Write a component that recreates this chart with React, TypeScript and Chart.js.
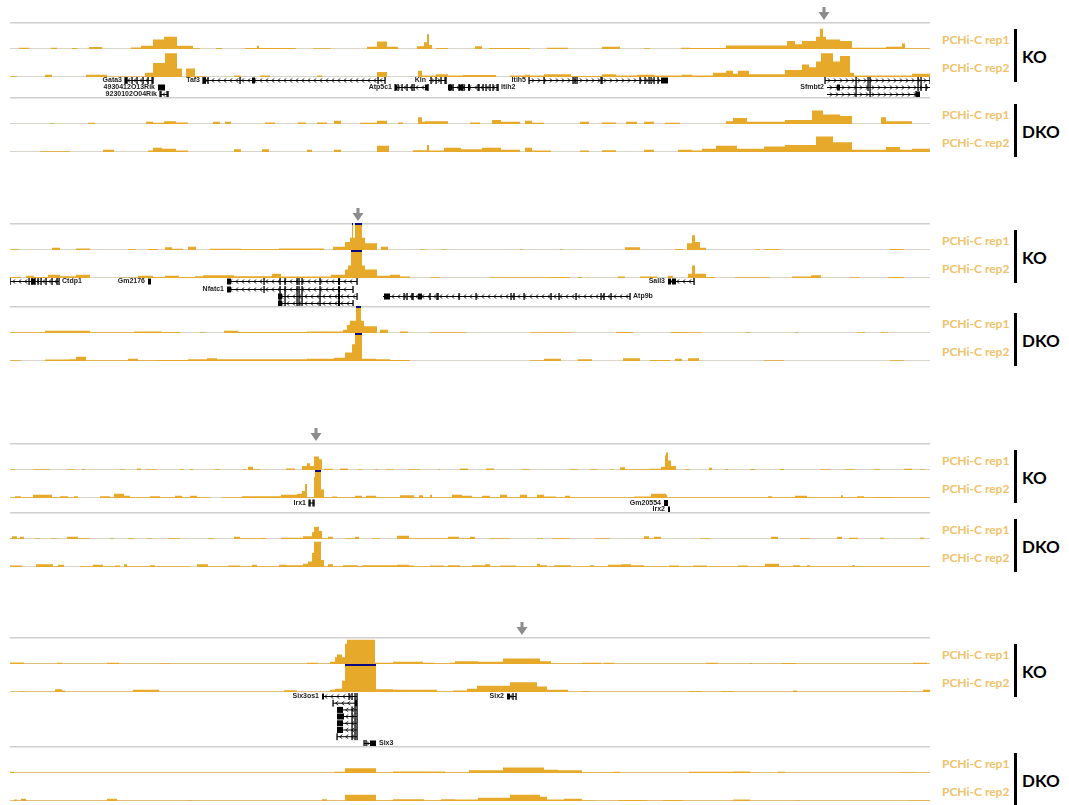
import React, { useEffect, useRef } from 'react';
import { Chart, registerables } from 'chart.js';
Chart.register(...registerables);

type Pt = [number, number];
type Gene = {
  name: string; start: number; end: number; row: number; strand: number;
  ticks: number[]; blocks: [number, number][]; label: 'left' | 'right' | 'none';
};

// locus window positions 0..920, values in % of track height (>100 = clipped)
const SPAN = 920;
const CAP = 100;

// ---------- Panel 1 (Gata3 ... Sfmbt2) ----------
const p1KoRep1: Pt[] = [[0,0],[9,5],[19,0],[41,5],[47,0],[62,4],[67,0],[79,7],[92,0],[121,6],[131,12],[143,35],[154,45],[167,12],[183,3],[190,0],[206,4],[212,0],[235,4],[247,12],[249,4],[286,0],[303,3],[321,0],[357,8],[367,28],[377,8],[388,0],[407,10],[414,25],[417,55],[419,15],[422,0],[426,4],[438,0],[465,10],[472,0],[479,4],[520,0],[537,5],[558,0],[592,8],[610,0],[634,3],[640,0],[671,5],[680,4],[716,13],[777,30],[785,18],[792,30],[806,45],[810,75],[813,45],[816,35],[830,30],[842,5],[876,8],[892,20],[895,3],[920,3]];
const p1KoRep2: Pt[] = [[0,3],[7,0],[35,8],[42,0],[76,8],[97,2],[135,15],[143,50],[155,85],[167,30],[172,0],[176,30],[185,3],[195,0],[224,5],[231,0],[250,5],[260,0],[307,5],[312,0],[367,18],[377,0],[408,22],[412,5],[426,10],[438,5],[453,7],[486,0],[500,5],[515,8],[520,5],[534,10],[561,4],[592,10],[606,5],[627,8],[644,5],[672,8],[682,5],[703,15],[716,22],[723,12],[728,22],[739,10],[775,25],[792,45],[799,35],[806,55],[811,85],[823,55],[830,75],[840,15],[844,5],[902,12],[920,12]];
const p1DkoRep1: Pt[] = [[0,0],[40,3],[44,0],[78,5],[85,0],[136,8],[143,5],[154,10],[166,6],[178,0],[203,8],[210,0],[215,8],[221,0],[255,6],[265,0],[288,6],[296,0],[307,6],[317,0],[324,12],[331,0],[350,5],[367,12],[377,0],[388,6],[393,0],[408,25],[412,8],[415,10],[438,0],[460,6],[470,0],[482,15],[491,8],[510,0],[515,12],[522,5],[534,0],[570,8],[579,0],[592,6],[606,0],[616,8],[627,0],[634,8],[644,0],[655,5],[670,0],[716,10],[723,22],[737,8],[775,15],[802,50],[813,35],[830,30],[842,0],[871,25],[876,10],[902,0],[920,0]];
const p1DkoRep2: Pt[] = [[0,0],[30,3],[60,0],[93,8],[104,0],[138,5],[143,15],[152,12],[166,5],[178,0],[224,10],[231,0],[252,10],[259,0],[297,8],[302,0],[324,8],[331,0],[367,22],[379,0],[403,6],[417,25],[419,5],[434,15],[451,10],[472,15],[491,8],[510,0],[515,15],[522,5],[527,5],[541,0],[570,5],[579,0],[592,6],[606,0],[634,8],[644,0],[668,8],[682,5],[692,12],[706,22],[727,12],[754,20],[775,25],[806,55],[823,35],[842,8],[876,18],[890,8],[902,12],[920,12]];
const p1Genes: Gene[] = [
  { name: 'Gata3', start: 115, end: 143, row: 0, strand: -1, ticks: [115,117,122,127,133,138,142,143], blocks: [[115,117]], label: 'left' },
  { name: '4930412O13Rik', start: 148, end: 155, row: 1, strand: 0, ticks: [], blocks: [[148,155]], label: 'left' },
  { name: '9230102O04Rik', start: 150, end: 158, row: 2, strand: -1, ticks: [150,151,157,158], blocks: [], label: 'left' },
  { name: 'Taf3', start: 193, end: 375, row: 0, strand: -1, ticks: [193,195,198,230,368,375], blocks: [[193,196],[242,245]], label: 'left' },
  { name: 'Atp5c1', start: 385, end: 418, row: 1, strand: -1, ticks: [385,388,392,397,402,404,418], blocks: [[385,387],[415,418]], label: 'left' },
  { name: 'Kln', start: 419, end: 436, row: 0, strand: 1, ticks: [421,426,431,435,436], blocks: [], label: 'left' },
  { name: 'Itih2', start: 438, end: 488, row: 1, strand: -1, ticks: [440,443,449,452,454,459,468,469,473,476,480,483,487,488], blocks: [[438,442],[449,453],[458,460]], label: 'right' },
  { name: 'Itih5', start: 519, end: 658, row: 0, strand: 1, ticks: [519,534,563,565,567,591,592,630,635,639,641,644,648], blocks: [[651,658]], label: 'left' },
  { name: 'Sfmbt2', start: 815, end: 920, row: 0, strand: 1, ticks: [815,846,858,860,908,911,920], blocks: [], label: 'none' },
  { name: 'Sfmbt2', start: 817, end: 920, row: 1, strand: 1, ticks: [846,858,860,908,911,916], blocks: [[827,830]], label: 'left' },
  { name: 'Sfmbt2', start: 817, end: 910, row: 2, strand: 1, ticks: [846,860,906], blocks: [[906,910]], label: 'none' },
];

// ---------- Panel 2 (Ctdp1 ... Sall3) ----------
const p2KoRep1: Pt[] = [[0,3],[9,0],[42,8],[50,0],[66,6],[80,0],[118,4],[126,0],[138,4],[148,0],[155,10],[162,5],[173,0],[178,12],[186,0],[200,5],[231,4],[269,6],[314,0],[323,12],[335,30],[340,45],[342,110],[343,45],[345,110],[352,45],[355,25],[367,0],[371,12],[378,0],[410,3],[415,0],[431,3],[436,0],[510,3],[513,0],[550,3],[553,0],[615,10],[630,0],[665,4],[673,0],[677,25],[682,55],[685,30],[690,8],[696,0],[745,3],[750,0],[754,4],[770,0],[880,4],[894,0],[920,0]];
const p2KoRep2: Pt[] = [[0,4],[11,0],[16,8],[24,4],[38,12],[50,6],[66,12],[80,0],[110,2],[128,8],[143,4],[155,8],[169,4],[185,6],[193,10],[224,6],[262,15],[271,5],[321,12],[335,30],[338,45],[341,110],[352,45],[355,30],[367,8],[380,12],[390,5],[400,0],[420,3],[430,0],[480,3],[540,4],[560,0],[568,4],[572,0],[608,5],[615,0],[630,5],[647,0],[658,8],[663,0],[678,15],[682,45],[685,15],[696,4],[705,0],[725,3],[760,0],[782,5],[801,10],[811,0],[840,3],[850,0],[878,4],[894,0],[920,0]];
const p2DkoRep1: Pt[] = [[0,3],[35,8],[80,3],[124,6],[152,4],[170,0],[190,3],[195,0],[214,8],[228,4],[280,4],[297,6],[333,12],[337,30],[340,45],[346,110],[351,45],[354,25],[367,0],[370,12],[378,0],[390,6],[398,0],[420,3],[440,3],[456,0],[520,3],[561,0],[606,4],[623,0],[661,4],[675,3],[692,0],[735,3],[740,0],[785,3],[788,0],[847,3],[855,0],[871,3],[878,0],[920,0]];
const p2DkoRep2: Pt[] = [[0,3],[11,0],[35,5],[59,6],[66,15],[76,3],[118,8],[128,3],[145,4],[178,6],[197,10],[207,6],[297,8],[324,12],[335,30],[342,60],[345,110],[352,8],[366,6],[380,4],[400,0],[520,3],[534,8],[551,0],[568,6],[582,0],[613,10],[630,0],[640,4],[660,0],[665,8],[672,0],[678,10],[689,0],[754,3],[774,0],[880,3],[894,0],[920,0]];
const p2Genes: Gene[] = [
  { name: 'Ctdp1', start: 0, end: 49, row: 0, strand: -1, ticks: [0,19,22,25,28,31,36,42,47,49], blocks: [[21,25]], label: 'right' },
  { name: 'Gm2176', start: 138, end: 141, row: 0, strand: 0, ticks: [], blocks: [[138,141]], label: 'left' },
  { name: 'Nfatc1', start: 217, end: 347, row: 0, strand: -1, ticks: [254,270,275,287,289,292,310,329,347], blocks: [[217,221],[328,330]], label: 'none' },
  { name: 'Nfatc1', start: 217, end: 343, row: 1, strand: -1, ticks: [254,270,275,287,289,292,310,329,343], blocks: [[217,221],[328,330]], label: 'left' },
  { name: 'Nfatc1', start: 268, end: 347, row: 2, strand: -1, ticks: [270,275,287,289,292,310,329,347], blocks: [[268,272],[328,330]], label: 'none' },
  { name: 'Nfatc1', start: 268, end: 343, row: 3, strand: -1, ticks: [270,275,287,289,292,310,329,343], blocks: [[268,272],[328,330]], label: 'none' },
  { name: 'Atp9b', start: 373, end: 620, row: 2, strand: -1, ticks: [394,397,402,403,420,427,428,449,466,501,504,514,541,549,566,591,594,601,620], blocks: [[374,380],[408,412]], label: 'right' },
  { name: 'Sall3', start: 658, end: 684, row: 0, strand: -1, ticks: [684], blocks: [[658,661],[662,666]], label: 'left' },
];

// ---------- Panel 3 (Irx1 ... Irx2) ----------
const p3KoRep1: Pt[] = [[0,3],[5,0],[23,3],[40,0],[57,3],[65,0],[72,4],[75,0],[110,3],[115,0],[127,6],[131,0],[136,3],[147,0],[170,3],[174,0],[180,4],[183,0],[205,3],[210,0],[233,4],[236,0],[238,12],[243,3],[250,0],[276,6],[285,0],[292,15],[297,25],[300,15],[304,50],[309,40],[312,0],[314,5],[323,0],[330,6],[338,0],[348,3],[352,0],[365,3],[368,0],[376,3],[384,0],[398,3],[410,0],[428,3],[430,0],[450,6],[458,0],[476,6],[484,0],[512,3],[520,0],[560,3],[568,0],[580,3],[587,0],[600,3],[604,0],[610,10],[615,3],[639,5],[651,12],[655,55],[656,65],[658,35],[661,15],[666,0],[675,3],[680,0],[699,8],[702,0],[715,4],[718,0],[740,4],[745,0],[770,4],[774,0],[810,3],[820,0],[835,3],[845,0],[864,3],[870,0],[894,5],[902,0],[910,3],[915,0],[920,0]];
const p3KoRep2: Pt[] = [[0,3],[5,6],[11,3],[23,12],[42,3],[50,6],[58,3],[64,6],[68,0],[90,6],[100,3],[104,15],[114,8],[120,3],[140,6],[150,3],[165,8],[172,3],[180,8],[187,3],[200,0],[212,3],[232,6],[271,12],[287,15],[292,25],[295,50],[297,3],[304,75],[305,110],[311,30],[314,3],[322,5],[327,3],[345,8],[352,3],[356,8],[366,3],[390,10],[404,3],[409,10],[413,3],[420,12],[422,3],[442,12],[452,8],[462,3],[472,8],[480,3],[490,12],[497,3],[510,12],[517,3],[527,12],[534,5],[546,3],[555,8],[560,3],[610,3],[624,5],[641,15],[656,12],[657,3],[700,3],[735,3],[758,6],[762,3],[785,8],[797,3],[831,10],[833,3],[847,6],[854,3],[865,4],[882,3],[920,3]];
const p3DkoRep1: Pt[] = [[0,3],[2,10],[7,3],[10,8],[14,0],[25,3],[30,0],[41,3],[47,0],[57,8],[68,3],[80,0],[100,3],[104,0],[118,3],[124,0],[137,3],[142,0],[158,3],[170,0],[198,3],[204,0],[224,8],[230,3],[250,4],[256,0],[271,5],[283,5],[293,10],[302,25],[304,45],[309,30],[312,3],[318,8],[323,0],[335,3],[345,8],[349,0],[362,3],[370,0],[387,12],[399,3],[420,3],[438,8],[449,3],[458,3],[460,8],[465,0],[480,3],[500,0],[527,3],[533,0],[542,3],[560,0],[585,3],[600,0],[634,10],[639,3],[644,8],[651,0],[690,3],[700,0],[761,8],[768,0],[790,3],[800,0],[827,8],[832,0],[839,5],[848,0],[870,5],[874,0],[910,5],[914,0],[920,0]];
const p3DkoRep2: Pt[] = [[0,5],[12,0],[26,10],[43,3],[48,8],[54,0],[70,3],[83,8],[93,3],[105,5],[110,0],[114,10],[117,3],[140,6],[145,3],[165,3],[180,0],[187,10],[198,3],[218,5],[230,3],[242,8],[247,3],[269,8],[276,6],[293,12],[298,20],[302,50],[304,90],[311,25],[314,3],[318,10],[323,3],[333,6],[348,3],[352,6],[365,6],[377,6],[387,8],[399,5],[404,3],[420,5],[434,3],[438,6],[450,3],[462,6],[475,10],[480,3],[490,5],[506,3],[527,12],[530,6],[537,3],[544,6],[561,3],[580,6],[584,3],[598,8],[611,10],[621,6],[634,3],[659,5],[669,3],[683,5],[697,3],[728,5],[738,3],[755,12],[769,3],[783,6],[790,3],[797,6],[800,3],[842,6],[845,3],[920,3]];
const p3Genes: Gene[] = [
  { name: 'Irx1', start: 299, end: 304, row: 0, strand: 0, ticks: [299,300,303,304], blocks: [], label: 'left' },
  { name: 'Gm20554', start: 654, end: 658, row: 0, strand: 0, ticks: [], blocks: [[654,658]], label: 'left' },
  { name: 'Irx2', start: 658, end: 660, row: 1, strand: 0, ticks: [], blocks: [[658,660]], label: 'left' },
];

// ---------- Panel 4 (Six3os1 / Six3 ... Six2) ----------
const p4KoRep1: Pt[] = [[0,6],[14,2],[47,5],[52,2],[97,5],[109,2],[150,3],[160,2],[297,5],[308,2],[320,8],[325,25],[327,35],[332,25],[335,75],[337,90],[365,5],[383,8],[413,5],[425,3],[440,5],[445,10],[468,8],[493,20],[530,10],[541,3],[572,5],[591,2],[594,5],[604,2],[696,5],[708,2],[740,4],[742,2],[772,4],[786,2],[903,5],[917,2],[920,2]];
const p4KoRep2: Pt[] = [[0,2],[10,3],[17,2],[45,10],[52,5],[55,2],[123,8],[149,2],[274,6],[287,2],[320,8],[325,12],[332,40],[335,110],[366,10],[383,8],[427,3],[443,5],[457,12],[467,22],[500,35],[527,20],[537,8],[558,2],[572,4],[580,2],[679,4],[691,2],[711,4],[723,2],[783,5],[787,2],[890,3],[899,2],[913,8],[920,8]];
const p4DkoRep1: Pt[] = [[0,5],[4,2],[235,2],[324,5],[335,18],[366,3],[383,6],[435,3],[459,10],[493,20],[534,12],[548,10],[572,3],[603,5],[610,2],[679,5],[723,6],[740,3],[749,2],[768,5],[775,2],[890,3],[906,2],[920,2]];
const p4DkoRep2: Pt[] = [[0,2],[4,5],[7,2],[11,8],[16,2],[97,8],[107,2],[178,3],[183,2],[312,6],[317,2],[335,22],[366,3],[383,6],[414,3],[431,6],[445,5],[468,12],[500,22],[530,15],[537,5],[554,8],[572,3],[585,2],[608,4],[637,2],[653,4],[673,2],[723,5],[740,2],[785,3],[790,2],[899,3],[920,3]];
const p4Genes: Gene[] = [
  { name: 'Six3os1', start: 312, end: 347, row: 0, strand: -1, ticks: [339,342,345,347], blocks: [[312,314]], label: 'left' },
  { name: 'Six3os1', start: 323, end: 347, row: 1, strand: -1, ticks: [323,345,347], blocks: [[345,347]], label: 'none' },
  { name: 'Six3os1', start: 327, end: 347, row: 2, strand: -1, ticks: [342,345,347], blocks: [[327,333]], label: 'none' },
  { name: 'Six3os1', start: 327, end: 347, row: 3, strand: -1, ticks: [342,345,347], blocks: [[327,334]], label: 'none' },
  { name: 'Six3os1', start: 327, end: 347, row: 4, strand: -1, ticks: [342,345,347], blocks: [[327,333]], label: 'none' },
  { name: 'Six3os1', start: 327, end: 347, row: 5, strand: -1, ticks: [342,345,347], blocks: [[327,333]], label: 'none' },
  { name: 'Six3os1', start: 327, end: 347, row: 6, strand: -1, ticks: [327,342,345,347], blocks: [], label: 'none' },
  { name: 'Six3', start: 354, end: 366, row: 7, strand: 1, ticks: [354,356], blocks: [[360,366]], label: 'right' },
  { name: 'Six2', start: 497, end: 506, row: 0, strand: -1, ticks: [503,506], blocks: [[497,500]], label: 'left' },
];

const ARROWS = [814, 348, 306, 512];
const TRACK_LABELS = ['PCHi-C rep1', 'PCHi-C rep2'];
const GROUPS = ['KO', 'DKO'];

const FILL = '#E6A92A';
const LABEL_COLOR = '#F0C26A';
const CAP_COLOR = '#0A0A80';
const SEP_COLOR = '#cfcfcf';
const BASE_COLOR = '#d9d4c8';
const ARROW_COLOR = '#8c8c8c';

const PANELS = [
  { top: 22, geneH: 20, rowY: [3, 10, 17], tracks: [p1KoRep1, p1KoRep2, p1DkoRep1, p1DkoRep2], genes: p1Genes },
  { top: 223, geneH: 28, rowY: [3, 11, 18, 25], tracks: [p2KoRep1, p2KoRep2, p2DkoRep1, p2DkoRep2], genes: p2Genes },
  { top: 443, geneH: 14, rowY: [4.5, 11], tracks: [p3KoRep1, p3KoRep2, p3DkoRep1, p3DkoRep2], genes: p3Genes },
  { top: 637, geneH: 54, rowY: [4, 10.7, 17.4, 24, 30.8, 37.5, 44.2, 51], tracks: [p4KoRep1, p4KoRep2, p4DkoRep1, p4DkoRep2], genes: p4Genes },
];

const baseOptions: any = {
  animation: false,
  responsive: false,
  maintainAspectRatio: false,
  events: [],
  scales: {
    x: { type: 'linear', min: 0, max: SPAN, display: false },
    y: { type: 'linear', min: 0, max: CAP, display: false },
  },
  plugins: { legend: { display: false }, tooltip: { enabled: false } },
};

function Track({ pts, top, height, arrow, topLine }: { pts: Pt[]; top: number; height: number; arrow?: number; topLine?: boolean }) {
  const ref = useRef<HTMLCanvasElement>(null);
  const pad = arrow !== undefined ? 22 : 0;
  useEffect(() => {
    const deco = {
      id: 'deco',
      beforeDatasetsDraw(chart: any) {
        const { ctx, chartArea: a } = chart;
        ctx.save();
        ctx.fillStyle = BASE_COLOR;
        ctx.fillRect(a.left, a.bottom - 1, a.right - a.left, 1);
        if (topLine) {
          ctx.fillStyle = SEP_COLOR;
          ctx.fillRect(a.left, a.top, a.right - a.left, 1.5);
        }
        ctx.restore();
      },
      afterDatasetsDraw(chart: any) {
        const { ctx, chartArea: a } = chart;
        const xs = chart.scales.x;
        ctx.save();
        ctx.fillStyle = CAP_COLOR;
        pts.forEach(([p, v], i) => {
          if (v > CAP && i + 1 < pts.length) {
            const x0 = xs.getPixelForValue(p);
            const x1 = xs.getPixelForValue(pts[i + 1][0]);
            ctx.fillRect(x0, a.top, x1 - x0, 2);
          }
        });
        if (arrow !== undefined) {
          const ax = xs.getPixelForValue(arrow);
          ctx.fillStyle = ARROW_COLOR;
          ctx.fillRect(ax - 1.5, a.top - 15, 3, 6);
          ctx.beginPath();
          ctx.moveTo(ax - 5.5, a.top - 10);
          ctx.lineTo(ax + 5.5, a.top - 10);
          ctx.lineTo(ax, a.top - 2);
          ctx.closePath();
          ctx.fill();
        }
        ctx.restore();
      },
    };
    const chart = new Chart(ref.current as HTMLCanvasElement, {
      type: 'line',
      data: {
        datasets: [{
          data: pts.map(([x, v]) => ({ x, y: Math.min(v, CAP) })),
          stepped: true,
          fill: 'origin',
          backgroundColor: FILL,
          borderColor: FILL,
          borderWidth: 0,
          pointRadius: 0,
        }],
      },
      options: { ...baseOptions, layout: { padding: { top: pad, left: 0, right: 0, bottom: 0 } } },
      plugins: [deco],
    } as any);
    return () => chart.destroy();
  }, []);
  return <canvas ref={ref} width={SPAN} height={height + pad} style={{ position: 'absolute', left: 10, top: top - pad, width: SPAN, height: height + pad }} />;
}

function drawGene(ctx: CanvasRenderingContext2D, xs: any, y: number, g: Gene) {
  const x0 = xs.getPixelForValue(g.start);
  const x1 = xs.getPixelForValue(g.end);
  ctx.strokeStyle = '#000';
  ctx.fillStyle = '#000';
  ctx.lineWidth = 1;
  ctx.beginPath();
  ctx.moveTo(x0, y + 0.5);
  ctx.lineTo(x1, y + 0.5);
  ctx.stroke();
  if (g.strand !== 0) {
    ctx.lineWidth = 0.8;
    for (let cx = x0 + 4; cx < x1 - 2; cx += 6) {
      ctx.beginPath();
      ctx.moveTo(cx - 1.3 * g.strand, y - 1.5);
      ctx.lineTo(cx + 1.3 * g.strand, y + 0.5);
      ctx.lineTo(cx - 1.3 * g.strand, y + 2.5);
      ctx.stroke();
    }
  }
  g.ticks.forEach((t) => {
    const tx = xs.getPixelForValue(t);
    ctx.fillRect(tx - 0.6, y - 3, 1.3, 7);
  });
  g.blocks.forEach(([b0, b1]) => {
    const bx0 = xs.getPixelForValue(b0);
    const bx1 = xs.getPixelForValue(b1);
    ctx.fillRect(bx0, y - 2.5, Math.max(bx1 - bx0, 1.5), 6);
  });
  if (g.label !== 'none') {
    ctx.font = 'bold 7px "Liberation Sans", Arial, sans-serif';
    ctx.fillStyle = '#222';
    ctx.textBaseline = 'middle';
    if (g.label === 'left') {
      ctx.textAlign = 'right';
      ctx.fillText(g.name, x0 - 3, y + 0.5);
    } else {
      ctx.textAlign = 'left';
      ctx.fillText(g.name, x1 + 3, y + 0.5);
    }
  }
}

function GeneTrack({ genes, top, height, rowY }: { genes: Gene[]; top: number; height: number; rowY: number[] }) {
  const ref = useRef<HTMLCanvasElement>(null);
  useEffect(() => {
    const genePlugin = {
      id: 'genes',
      afterDraw(chart: any) {
        const { ctx, chartArea: a } = chart;
        const xs = chart.scales.x;
        ctx.save();
        genes.forEach((g) => drawGene(ctx, xs, a.top + rowY[g.row], g));
        ctx.restore();
      },
    };
    const chart = new Chart(ref.current as HTMLCanvasElement, {
      type: 'line',
      data: { datasets: [{ data: [] }] },
      options: { ...baseOptions, layout: { padding: 0 } },
      plugins: [genePlugin],
    } as any);
    return () => chart.destroy();
  }, []);
  return <canvas ref={ref} width={SPAN} height={height} style={{ position: 'absolute', left: 10, top, width: SPAN, height }} />;
}

function Labels({ r1Top, r2Bottom, group }: { r1Top: number; r2Bottom: number; group: string }) {
  const r1Base = r1Top + 27;
  const r2Base = r2Bottom;
  const labelStyle: React.CSSProperties = {
    position: 'absolute', left: 942, font: 'bold 12px Lato, "Open Sans", sans-serif',
    color: LABEL_COLOR, lineHeight: '14px', height: 14, whiteSpace: 'nowrap',
  };
  const barTop = r1Top + 7;
  const barBottom = r2Bottom + 5;
  return (
    <>
      <div style={{ ...labelStyle, top: r1Base - 9 - 7 }}>{TRACK_LABELS[0]}</div>
      <div style={{ ...labelStyle, top: r2Base - 9 - 7 }}>{TRACK_LABELS[1]}</div>
      <div style={{ position: 'absolute', left: 1014, top: barTop, width: 3, height: barBottom - barTop, background: '#000' }} />
      <div style={{
        position: 'absolute', left: 1022, top: (barTop + barBottom) / 2 + 1 - 11, lineHeight: '22px', height: 22,
        font: 'bold 17px Lato, "Open Sans", sans-serif', color: '#000',
      }}>{group}</div>
    </>
  );
}

export default function App() {
  return (
    <div style={{ position: 'absolute', left: 0, top: 0, width: 1069, height: 805, background: '#fff', overflow: 'hidden' }}>
      {PANELS.map((p, i) => {
        const r1 = p.top;
        const r2 = p.top + 27;
        const g = p.top + 55;
        const d1 = g + p.geneH;
        const d2 = d1 + 27;
        return (
          <React.Fragment key={i}>
            <Track pts={p.tracks[0]} top={r1} height={27} arrow={ARROWS[i]} topLine />
            <Track pts={p.tracks[1]} top={r2} height={28} />
            <GeneTrack genes={p.genes} top={g} height={p.geneH} rowY={p.rowY} />
            <Track pts={p.tracks[2]} top={d1} height={27} topLine />
            <Track pts={p.tracks[3]} top={d2} height={28} />
            <Labels r1Top={r1} r2Bottom={g} group={GROUPS[0]} />
            <Labels r1Top={d1} r2Bottom={d2 + 28} group={GROUPS[1]} />
          </React.Fragment>
        );
      })}
    </div>
  );
}
